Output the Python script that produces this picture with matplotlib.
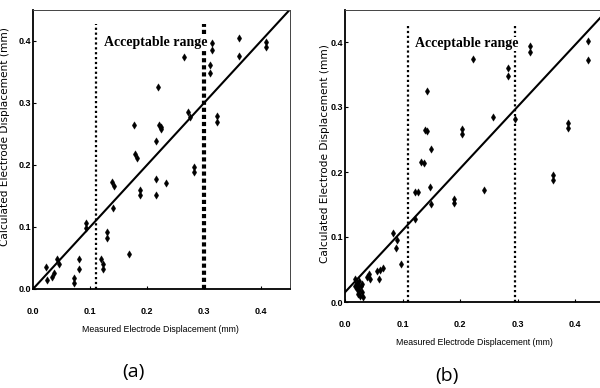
import matplotlib
matplotlib.use("Agg")
import matplotlib.pyplot as plt
import numpy as np

# ---------------- data ----------------
a_x = [0.023, 0.024, 0.033, 0.036, 0.042, 0.046, 0.072, 0.072, 0.081, 0.081,
       0.093, 0.093, 0.119, 0.122, 0.123, 0.130, 0.130, 0.140, 0.138, 0.142,
       0.169, 0.188, 0.188, 0.216, 0.215, 0.233, 0.177, 0.179, 0.182, 0.215,
       0.220, 0.221, 0.225, 0.224, 0.265, 0.272, 0.276, 0.283, 0.283, 0.310,
       0.310, 0.314, 0.314, 0.322, 0.322, 0.361, 0.361, 0.408, 0.408]
a_y = [0.035, 0.015, 0.020, 0.026, 0.048, 0.041, 0.017, 0.009, 0.048, 0.033,
       0.107, 0.098, 0.048, 0.041, 0.033, 0.092, 0.083, 0.130, 0.172, 0.166,
       0.057, 0.160, 0.152, 0.152, 0.177, 0.171, 0.265, 0.217, 0.212, 0.238,
       0.326, 0.265, 0.258, 0.262, 0.375, 0.285, 0.278, 0.196, 0.188, 0.361,
       0.348, 0.397, 0.385, 0.279, 0.270, 0.405, 0.376, 0.398, 0.390]

b_x = [0.018, 0.020, 0.022, 0.025, 0.020, 0.025, 0.028, 0.022, 0.030, 0.032,
       0.026, 0.018, 0.030, 0.038, 0.041, 0.043, 0.056, 0.061, 0.066, 0.059,
       0.084, 0.090, 0.089, 0.097, 0.121, 0.122, 0.127, 0.148, 0.149, 0.190,
       0.190, 0.241, 0.132, 0.138, 0.139, 0.143, 0.149, 0.142, 0.203, 0.203,
       0.223, 0.258, 0.283, 0.283, 0.296, 0.322, 0.322, 0.361, 0.361, 0.387,
       0.387, 0.423, 0.423]
b_y = [0.035, 0.030, 0.025, 0.032, 0.020, 0.018, 0.024, 0.012, 0.015, 0.008,
       0.010, 0.025, 0.028, 0.039, 0.043, 0.036, 0.048, 0.050, 0.052, 0.035,
       0.106, 0.095, 0.083, 0.058, 0.127, 0.169, 0.170, 0.177, 0.151, 0.158,
       0.152, 0.172, 0.215, 0.214, 0.265, 0.263, 0.235, 0.324, 0.266, 0.258,
       0.374, 0.284, 0.360, 0.347, 0.281, 0.394, 0.385, 0.195, 0.188, 0.275,
       0.268, 0.402, 0.372]

fit_a_x = [0.0, 0.45]
fit_a_y = [0.0, 0.45]
fit_b_x = [0.0, 0.45]
fit_b_y = [0.015, 0.443]

range_a = [0.11, 0.30]
range_b = [0.11, 0.295]

ticks = [0.0, 0.1, 0.2, 0.3, 0.4]
tick_labels = ["0.0", "0.1", "0.2", "0.3", "0.4"]

xlabel = "Measured Electrode Displacement (mm)"
ylabel = "Calculated Electrode Displacement (mm)"
range_text = "Acceptable range"
panel_labels = ["(a)", "(b)"]

# ---------------- figure ----------------
W, H = 600, 388
fig = plt.figure(figsize=(W / 100, H / 100), dpi=100)

def px_axes(l, t, r, b):
    return [l / W, 1 - b / H, (r - l) / W, (b - t) / H]

ax_a = fig.add_axes(px_axes(33, 10, 289.5, 289))
ax_b = fig.add_axes(px_axes(345, 9.5, 603.75, 302))

narrow = ["Liberation Sans Narrow", "Liberation Sans", "DejaVu Sans"]

def style(ax, xs, ys, fx, fy, rng, thick_right, text_x, xlab_pos, ylab_pos):
    ax.set_xlim(0, 0.45)
    ax.set_ylim(0, 0.45)
    ax.scatter(xs, ys, marker="d", s=14, color="black", linewidths=0.3,
               edgecolors="black", zorder=3)
    ax.plot(fx, fy, color="black", lw=1.5, zorder=2)
    ax.vlines(rng[0], 0, 0.428, colors="black", lw=1.6, linestyles=(0, (1, 1.2)))
    ax.vlines(rng[1], 0, 0.428, colors="black", lw=3.0 if thick_right else 1.6,
              linestyles=(0, (1, 0.7)) if thick_right else (0, (1, 1.2)))
    ax.text(text_x, 0.397, range_text, family=["Liberation Serif", "DejaVu Serif"],
            fontsize=10, fontweight="bold", va="center", ha="left",
            bbox=dict(facecolor="white", edgecolor="none", pad=0.5), zorder=4)
    ax.set_xticks(ticks)
    ax.set_xticklabels(tick_labels, family=narrow, fontsize=6.5, fontweight="bold")
    ax.set_yticks(ticks)
    ax.set_yticklabels(tick_labels, family=narrow, fontsize=6.5, fontweight="bold")
    ax.tick_params(axis="x", direction="in", length=2.5, width=0.8, pad=13)
    ax.tick_params(axis="y", direction="in", length=2.5, width=0.8, pad=1)
    for s in ("left", "bottom"):
        ax.spines[s].set_linewidth(1.3)
        ax.spines[s].set_color("black")
    for s in ("top", "right"):
        ax.spines[s].set_linewidth(0.7)
        ax.spines[s].set_color("#444444")
    ax.spines["right"].set_linestyle((0, (1, 1)))
    ax.set_xlabel(xlabel, family=narrow, fontsize=6.3)
    ax.set_ylabel(ylabel, family=["DejaVu Sans"], fontsize=7.6)
    ax.xaxis.set_label_coords(*xlab_pos)
    ax.yaxis.set_label_coords(*ylab_pos)

style(ax_a, a_x, a_y, fit_a_x, fit_a_y, range_a, True, 0.1246,
      (0.495, -0.129), (-0.09, 0.545))
style(ax_b, b_x, b_y, fit_b_x, fit_b_y, range_b, False, 0.122,
      (0.4986, -0.123), (-0.058, 0.509))

fig.text(133 / W, 1 - 372 / H, panel_labels[0], family=["Open Sans", "DejaVu Sans"],
         fontsize=14, ha="center", va="center")
fig.text(447 / W, 1 - 376 / H, panel_labels[1], family=["Open Sans", "DejaVu Sans"],
         fontsize=14, ha="center", va="center")

fig.savefig("out.png", dpi=100)
